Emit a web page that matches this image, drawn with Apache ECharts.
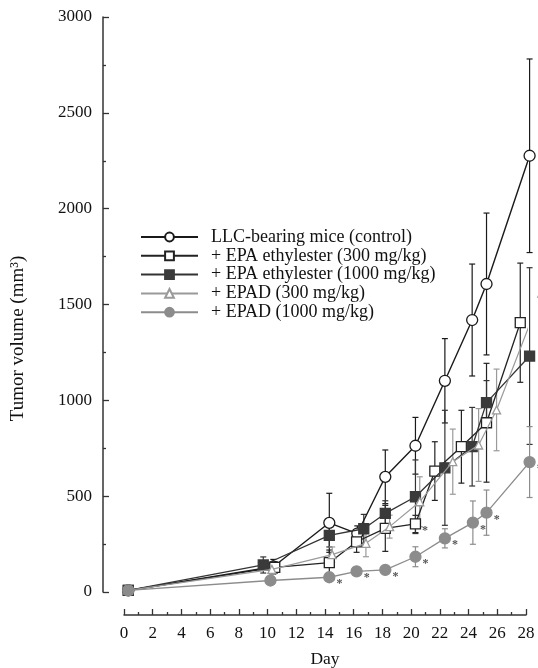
<!DOCTYPE html>
<html>
<head>
<meta charset="utf-8">
<script src="https://cdn.jsdelivr.net/npm/echarts@6/dist/echarts.min.js"></script>
<style>
html,body{margin:0;padding:0;background:#fff;}
#chart{width:538px;height:668px;}
</style>
</head>
<body>
<div id="chart"></div>
<script>
// ---- data (day, tumor volume mm3, error) ----
const seriesNames = [
  'LLC-bearing mice (control)',
  '+ EPA ethylester (300 mg/kg)',
  '+ EPA ethylester (1000 mg/kg)',
  '+ EPAD (300 mg/kg)',
  '+ EPAD (1000 mg/kg)'
];
const xTicks = [0, 2, 4, 6, 8, 10, 12, 14, 16, 18, 20, 22, 24, 26, 28];
const yTicks = [0, 500, 1000, 1500, 2000, 2500, 3000];

const ctrlX = [0.3, 10.4, 14.3, 16.25, 18.2, 20.3, 22.35, 24.25, 25.25, 28.25];
const ctrlY = [8, 132, 361, 305, 601, 763, 1102, 1419, 1607, 2276];
const ctrlE = [0, 38, 154, 40, 140, 148, 220, 292, 370, 505];
const ctrlSig = [0, 0, 0, 0, 0, 0, 0, 0, 0, 0];

const epa300X = [0.3, 10.5, 14.3, 16.2, 18.2, 20.3, 21.65, 23.5, 25.25, 27.6];
const epa300Y = [8, 128, 153, 262, 332, 355, 631, 758, 883, 1405];
const epa300E = [0, 30, 66, 55, 120, 45, 153, 190, 310, 311];
const epa300Sig = [0, 0, 0, 0, 0, 1, 0, 0, 0, 0];

const epa1000X = [0.3, 9.7, 14.3, 16.7, 18.2, 20.3, 22.35, 24.25, 25.25, 28.25];
const epa1000Y = [8, 141, 295, 330, 410, 497, 648, 758, 988, 1231];
const epa1000E = [0, 42, 60, 75, 66, 192, 300, 205, 115, 461];
const epa1000Sig = [0, 0, 0, 0, 0, 0, 0, 0, 0, 0];

const epad300X = [0.3, 10.3, 14.5, 16.85, 18.5, 20.6, 22.9, 24.7, 25.95, 29.1];
const epad300Y = [8, 118, 195, 254, 341, 471, 680, 767, 950, 1560];
const epad300E = [0, 25, 40, 70, 60, 130, 170, 190, 213, 200];
const epad300Sig = [0, 0, 0, 0, 0, 0, 0, 0, 0, 0];

const epad1000X = [0.3, 10.2, 14.3, 16.2, 18.2, 20.3, 22.35, 24.3, 25.25, 28.25];
const epad1000Y = [8, 60, 77, 108, 115, 184, 280, 362, 414, 678];
const epad1000E = [0, 0, 0, 20, 20, 52, 50, 113, 118, 185];
const epad1000Sig = [0, 0, 1, 1, 1, 1, 1, 1, 1, 1];

// ---- styles ----
const FONT = 'Liberation Serif';
const styles = [
  {line: '#1a1a1a', fill: '#ffffff', stroke: '#1a1a1a', symbol: 'circle', size: 11, width: 1.4},
  {line: '#222222', fill: '#ffffff', stroke: '#222222', symbol: 'rect', size: 10, width: 1.3},
  {line: '#333333', fill: '#3a3a3a', stroke: '#3a3a3a', symbol: 'rect', size: 10, width: 1.3},
  {line: '#9a9a9a', fill: '#ffffff', stroke: '#9a9a9a', symbol: 'triangle', size: 8, width: 1.2},
  {line: '#8c8c8c', fill: '#8c8c8c', stroke: '#8c8c8c', symbol: 'circle', size: 11, width: 1.3}
];
const groups = [
  [ctrlX, ctrlY, ctrlE, ctrlSig],
  [epa300X, epa300Y, epa300E, epa300Sig],
  [epa1000X, epa1000Y, epa1000E, epa1000Sig],
  [epad300X, epad300Y, epad300E, epad300Sig],
  [epad1000X, epad1000Y, epad1000E, epad1000Sig]
];

function errRender(color) {
  return function (params, api) {
    const x = api.value(0), y = api.value(1), e = api.value(2);
    if (!e) return null;
    const top = api.coord([x, y + e]);
    const bot = api.coord([x, y - e]);
    const cw = 3;
    const st = {stroke: color, lineWidth: 1.2};
    return {
      type: 'group',
      children: [
        {type: 'line', shape: {x1: top[0], y1: top[1], x2: bot[0], y2: bot[1]}, style: st},
        {type: 'line', shape: {x1: top[0] - cw, y1: top[1], x2: top[0] + cw, y2: top[1]}, style: st},
        {type: 'line', shape: {x1: bot[0] - cw, y1: bot[1], x2: bot[0] + cw, y2: bot[1]}, style: st}
      ]
    };
  };
}

const series = [];
groups.forEach(function (g, i) {
  const [xs, ys, es, sig] = g;
  const s = styles[i];
  series.push({
    type: 'custom',
    name: seriesNames[i] + ' err',
    renderItem: errRender(s.line),
    encode: {x: 0, y: 1},
    data: xs.map((x, k) => [x, ys[k], es[k]]),
    z: 1,
    silent: true,
    clip: false
  });
});
groups.forEach(function (g, i) {
  const [xs, ys, es, sig] = g;
  const s = styles[i];
  series.push({
    type: 'line',
    name: seriesNames[i],
    symbol: s.symbol,
    symbolSize: s.size,
    clip: false,
    z: 3 + i,
    lineStyle: {color: s.line, width: s.width},
    itemStyle: {color: s.fill, borderColor: s.stroke, borderWidth: 1.3, opacity: 1},
    label: {show: false},
    data: xs.map((x, k) => ({
      value: [x, ys[k]],
      label: sig[k] ? {
        show: true, formatter: '*', position: 'right', distance: 1,
        offset: [0, 7], color: '#555', fontSize: 12, fontWeight: 'bold', fontFamily: FONT
      } : {show: false}
    }))
  });
});

const chart = echarts.init(document.getElementById('chart'), null, {renderer: 'canvas'});
chart.setOption({
  backgroundColor: '#ffffff',
  animation: false,
  grid: {left: 124, right: 12, top: 17, bottom: 76, containLabel: false, outerBoundsMode: 'none'},
  legend: {
    data: seriesNames,
    orient: 'vertical',
    left: 140,
    top: 228,
    padding: 0,
    itemWidth: 57,
    itemHeight: 11,
    itemGap: 0.8,
    textStyle: {fontFamily: FONT, fontSize: 18, color: '#111', padding: [0, 0, 0, 8], lineHeight: 18},
    selectedMode: false
  },
  xAxis: {
    type: 'value',
    min: 0, max: 28, interval: 2,
    offset: 23,
    name: 'Day',
    nameLocation: 'middle',
    nameGap: 35,
    nameTextStyle: {fontFamily: FONT, fontSize: 17.5, color: '#111'},
    axisLine: {show: true, onZero: false, lineStyle: {color: '#333', width: 1.5}},
    axisTick: {show: true, inside: true, length: 6, lineStyle: {color: '#333', width: 1.3}},
    minorTick: {show: true, splitNumber: 2, length: 3, lineStyle: {color: '#333', width: 1.3}},
    splitLine: {show: false},
    minorSplitLine: {show: false},
    axisLabel: {
      fontFamily: FONT, fontSize: 17, color: '#111', margin: 10,
      formatter: v => (xTicks.indexOf(v) >= 0 ? String(v) : '')
    }
  },
  yAxis: {
    type: 'value',
    min: 0, max: 3000, interval: 500,
    offset: 21,
    name: 'Tumor volume (mm³)',
    nameLocation: 'middle',
    nameGap: 75,
    nameRotate: 90,
    nameTextStyle: {fontFamily: FONT, fontSize: 19, color: '#111', padding: [0, 68, 0, 0]},
    axisLine: {show: true, onZero: false, lineStyle: {color: '#333', width: 1.5}},
    axisTick: {show: true, inside: true, length: 6, lineStyle: {color: '#333', width: 1.3}},
    minorTick: {show: true, splitNumber: 2, length: 3, lineStyle: {color: '#333', width: 1.3}},
    splitLine: {show: false},
    minorSplitLine: {show: false},
    axisLabel: {
      fontFamily: FONT, fontSize: 17, color: '#111', margin: 11,
      formatter: v => (yTicks.indexOf(v) >= 0 ? String(v) : '')
    }
  },
  series: series
});
</script>
</body>
</html>
